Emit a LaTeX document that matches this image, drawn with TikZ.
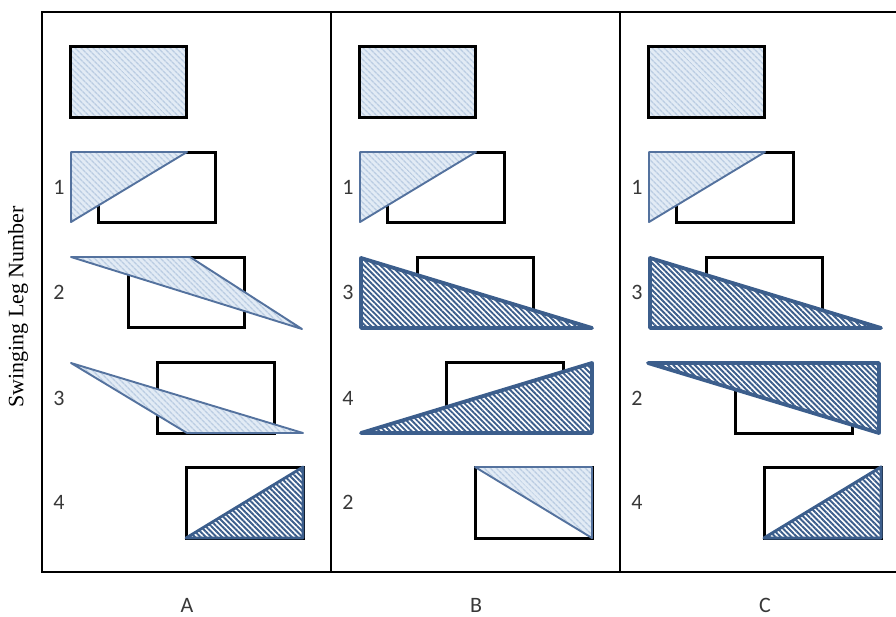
\documentclass[tikz,border=0pt]{standalone}
\definecolor{leglight}{RGB}{226,235,245}
\definecolor{legstripe}{RGB}{186,204,226}
\definecolor{legedge}{RGB}{84,114,158}
\definecolor{legdark}{RGB}{60,94,140}
\usepackage{fontspec}
\setmainfont{Liberation Serif}
\newfontfamily\calfont{Carlito}
\usepackage{tikz}
\usetikzlibrary{patterns.meta,positioning}

\tikzset{
  frameline/.style={draw=black,line width=2.6pt},
  legbox/.style={draw=black,line width=3pt},
  lighthatch/.style={preaction={fill=leglight},
    pattern={Lines[angle=-45,distance=4pt,line width=1.6pt]},pattern color=legstripe,
    draw=legedge,line width=1.9pt,line join=round},
  darkhatch/.style={preaction={fill=white},
    pattern={Lines[angle=-45,distance=3.8pt,line width=1.9pt]},pattern color=legdark,
    draw=legdark,line width=3.8pt,line join=round},
  rownum/.style={font=\calfont\fontsize{22}{24}\selectfont,text=black!78},
  panelname/.style={font=\calfont\fontsize{22}{24}\selectfont,text=black!78,inner sep=0pt}
}

\begin{document}
\begin{tikzpicture}[x=1pt,y=-1pt]
  \useasboundingbox (0,0) rectangle (896,616);
  % frame and dividers
  \draw[frameline] (896,12) -- (42,12) -- (42,572) -- (896,572);
  \draw[frameline] (331,12) -- (331,572);
  \draw[frameline] (620,12) -- (620,572);
  % axis label
  \node[rotate=90,font=\fontsize{22}{24}\selectfont] (ylab) at (18,307) {Swinging Leg Number};
  % parts every panel has
  \foreach \dx/\p in {0/A,289/B,578/C} {
    \begin{scope}[xshift=\dx]
      \filldraw[lighthatch,draw=black,line width=3pt,line join=miter] (70,46) rectangle (186,117);
      \draw[legbox] (98,152) rectangle (215,222);
      \draw[legbox] (128,257) rectangle (244,327);
      \draw[legbox] (157,362) rectangle (274,433);
      \draw[legbox] (186,467) rectangle (303,538);
      \filldraw[lighthatch] (71,152) -- (187,152) -- (71,222) -- cycle;
      \node[panelname,anchor=base] (name\p) at (187,612) {\p};
      \node[rownum] (num\p1) at (59,187) {1};
    \end{scope}
  }
  % leg numbers
  \foreach \dx/\p/\a/\b/\c in {0/A/2/3/4, 289/B/3/4/2, 578/C/3/2/4} {
    \node[rownum] (num\p2) at (59+\dx,292) {\a};
    \node[rownum] (num\p3) at (59+\dx,398) {\b};
    \node[rownum] (num\p4) at (59+\dx,502) {\c};
  }
  % panel A
  \filldraw[lighthatch] (71,257) -- (190,257) -- (302,329) -- cycle;
  \filldraw[lighthatch] (71,363) -- (303,433) -- (187,433) -- cycle;
  \filldraw[darkhatch,line width=2.8pt] (186,538) -- (303,467) -- (303,538) -- cycle;
  % panel B
  \begin{scope}[xshift=289]
    \filldraw[darkhatch] (72,258) -- (72,328) -- (303,328) -- cycle;
    \filldraw[darkhatch] (72,433) -- (303,363) -- (303,433) -- cycle;
    \filldraw[lighthatch] (186,467) -- (303,467) -- (303,538) -- cycle;
  \end{scope}
  % panel C
  \begin{scope}[xshift=578]
    \filldraw[darkhatch] (72,258) -- (72,328) -- (303,328) -- cycle;
    \filldraw[darkhatch] (70,363) -- (301,363) -- (301,433) -- cycle;
    \filldraw[darkhatch,line width=3pt] (186,538) -- (303,467) -- (303,538) -- cycle;
  \end{scope}
\end{tikzpicture}
\end{document}
